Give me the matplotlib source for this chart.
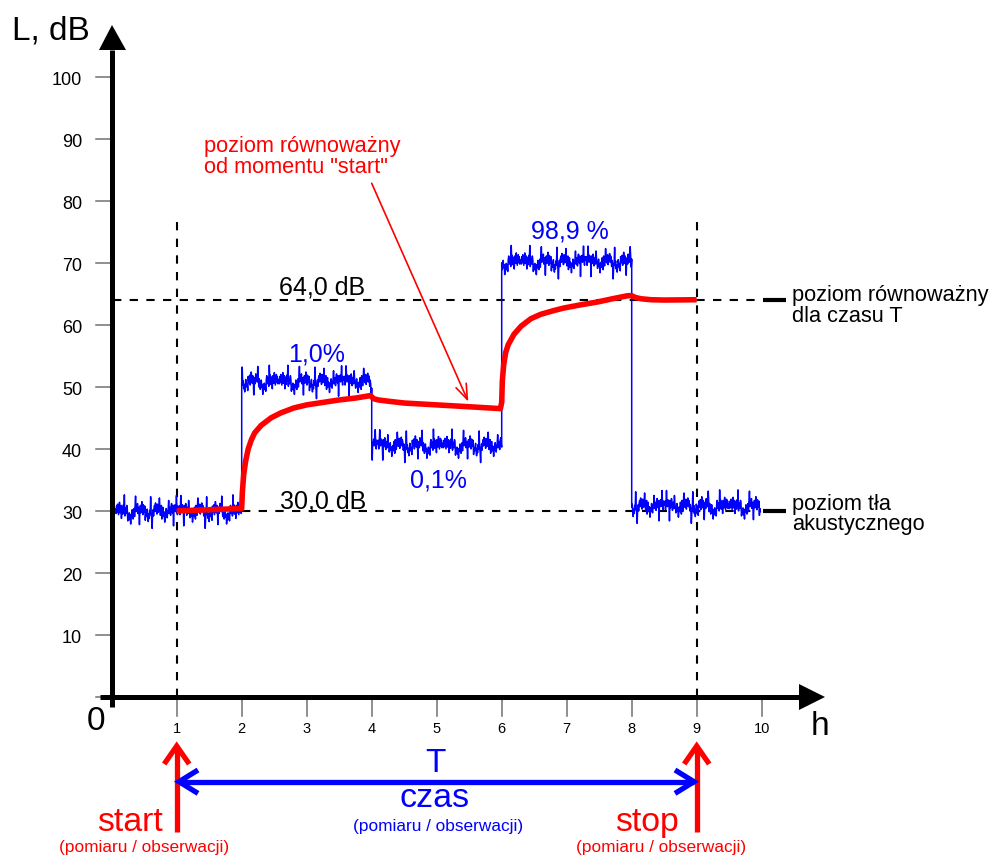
import numpy as np
import matplotlib
matplotlib.use("Agg")
import matplotlib.pyplot as plt

plt.rcParams['font.family'] = ['Liberation Sans', 'DejaVu Sans']

# ---------------- data ----------------
x_ticks = [1, 2, 3, 4, 5, 6, 7, 8, 9, 10]
y_ticks = [0, 10, 20, 30, 40, 50, 60, 70, 80, 90, 100]
y_tick_labels = ['', '10', '20', '30', '40', '50', '60', '70', '80', '90', '100']

# measured sound level: piecewise levels (hours, dB)
seg_start = [0.06, 2.0, 4.0, 6.0, 8.0]
seg_end = [2.0, 4.0, 6.0, 8.0, 9.98]
seg_level = [30.0, 50.9, 40.6, 70.2, 30.8]
seg_shift = [0, 37, 71, 19, 98]
# fluctuation pattern (dB around the level)
noise = [0.3, -0.4, 0.8, -0.2, 1.1, 0.2, -0.6, 0.5, 1.4, -0.3, 0.6, 0.9, -1.2, 0.4, 0.7,
         -0.5, 1.0, 0.1, 2.6, -0.8, 0.5, 0.2, -0.4, 0.9, 0.3, -1.6, -0.6, -1.1, -0.3, -1.4,
         -0.8, -2.1, -0.5, -1.0, 0.2, -0.7, -1.3, -0.2, 0.4, -0.9, 0.6, 2.4, -0.1, 0.8, 0.3,
         1.2, -0.4, 0.6, 0.1, -2.2, 0.5, 0.9, -0.3, 0.7, 1.5, 0.2, -0.6, 1.0, 0.4, -0.2,
         0.8, -1.5, -0.4, -0.9, -0.2, 0.3, -1.0, -1.7, -0.5, -1.2, 0.1, -0.6, 2.3, -0.3, -1.1,
         -2.8, -0.4, 0.2, -0.8, 0.5, 0.9, -0.1, 1.3, 0.4, 0.7, -0.5, 1.1, 0.3, -0.2, 0.8,
         2.1, 0.5, -0.7, 0.2, 0.9, -1.3, -0.4, 0.6, -0.9, -0.1, -0.6, -1.8, -0.3, -0.8, 0.4,
         -0.5, -1.1, -0.2, 0.3, 1.7, -0.4, 0.6, 0.1, -0.7, 0.8, 1.2, 0.3, -0.3, 0.9, -2.4,
         0.5, 0.2, 1.0, -0.1, 0.7, 2.5, 0.4, -0.6, 0.8, 0.2]

# equivalent level since "start"
leq_x = [1.0, 2.0, 2.0, 2.01, 2.03, 2.06, 2.1, 2.15, 2.2, 2.3, 2.45, 2.6, 2.8, 3.0, 3.25,
         3.5, 3.75, 3.98, 4.03, 4.1, 4.25, 4.5, 5.0, 5.5, 5.98, 6.0, 6.01, 6.03, 6.06, 6.1,
         6.19, 6.3, 6.45, 6.6, 6.8, 6.95, 7.2, 7.48, 7.7, 7.94, 8.0, 8.06, 8.15, 8.3, 8.5, 9.0]
leq_y = [30.0, 30.4, 30.6, 33.0, 35.8, 38.0, 40.0, 41.5, 42.6, 43.8, 45.0, 45.8, 46.6, 47.1, 47.5,
         47.9, 48.2, 48.6, 48.1, 47.9, 47.7, 47.4, 47.1, 46.8, 46.5, 47.5, 51.0, 53.5, 55.5, 56.8,
         58.5, 59.8, 61.0, 61.7, 62.3, 62.7, 63.2, 63.7, 64.2, 64.7, 64.7, 64.4, 64.2, 64.05, 64.0, 64.05]

ref_levels = [64.0, 30.0]
ref_labels = ['64,0 dB', '30,0 dB']
pct_labels = ['1,0%', '0,1%', '98,9 %']
t_start, t_stop = 1, 9

# ---------------- layout helpers (pixel -> data) ----------------
X0, SX = 111.7, 65.0
Y0, SY = 697.1, 6.204
def X(px):
    return (px - X0) / SX
def Y(py):
    return (Y0 - py) / SY

W, H = 991, 857
fig = plt.figure(figsize=(W / 100, H / 100), dpi=100)
ax = fig.add_axes([0, 0, 1, 1])
ax.set_xlim(X(0), X(W))
ax.set_ylim(Y(H), Y(0))
ax.axis('off')

BLUE = '#0000FF'
RED = '#FF0000'
GRAY = '#707070'
plt.rcParams['lines.scale_dashes'] = False
DASH = (6.0, 6.0)

# reference dashed lines
ax.plot([0.02, 9.98], [ref_levels[0]] * 2, color='black', lw=1.5, dashes=DASH, zorder=1)
ax.plot([2.0, 9.98], [ref_levels[1]] * 2, color='black', lw=1.5, dashes=DASH, zorder=1)
for lv in ref_levels:
    ax.plot([X(763), X(786)], [lv, lv], color='black', lw=3.0, solid_capstyle='butt', zorder=3)
# vertical dashed lines start / stop
for t in (t_start, t_stop):
    ax.plot([t, t], [Y(222), 0], color='black', lw=1.5, dashes=DASH, zorder=1)

# blue measured trace (pattern read forward then backward for each segment)
bx, by = [], []
pattern = np.array(noise + noise[::-1])
n = len(pattern)
for s, e, lv, sh in zip(seg_start, seg_end, seg_level, seg_shift):
    xs = np.linspace(s, e, n)
    ys = lv + np.roll(pattern, sh * 2)
    bx.extend(xs)
    by.extend(ys)
ax.plot(bx, by, color=BLUE, lw=1.1, zorder=2)

# red equivalent level curve
ax.plot(leq_x, leq_y, color=RED, lw=4.0, solid_joinstyle='round', solid_capstyle='butt', zorder=4)

# axes
ax.plot([0, 0], [Y(707), Y(50)], color='black', lw=3.6, solid_capstyle='butt', zorder=5)
ax.fill([X(99), X(112), X(126)], [Y(50), Y(25), Y(50)], color='black', lw=0, zorder=5)
ax.plot([X(100), X(800)], [0, 0], color='black', lw=3.6, solid_capstyle='butt', zorder=5)
ax.fill([X(799), X(825), X(799)], [Y(684), Y(697), Y(710)], color='black', lw=0, zorder=5)

for v, lab in zip(y_ticks, y_tick_labels):
    ax.plot([X(96), X(110)], [v, v], color=GRAY, lw=1.1, zorder=4)
    if lab:
        ax.text(X(82), v - 8 / SY, lab, fontsize=13, ha='right', va='baseline')
for v in x_ticks:
    ax.plot([v, v], [Y(700), Y(716)], color=GRAY, lw=1.1, zorder=4)
    ax.text(v, Y(733), str(v), fontsize=10.5, ha='center', va='baseline')

ax.text(X(12), Y(39), 'L, dB', fontsize=24, ha='left', va='baseline')
ax.text(X(95.7), Y(730), '0', fontsize=24, ha='center', va='baseline')
ax.text(X(820), Y(735), 'h', fontsize=24, ha='center', va='baseline')

# reference level labels
ax.text(X(322.5), Y(294), ref_labels[0], fontsize=18, ha='center', va='baseline', zorder=6)
ax.text(X(323), Y(508), ref_labels[1], fontsize=18, ha='center', va='baseline', zorder=6)

# percentage labels
ax.text(X(316.5), Y(361), pct_labels[0], fontsize=18, color=BLUE, ha='center', va='baseline')
ax.text(X(438.5), Y(487), pct_labels[1], fontsize=18, color=BLUE, ha='center', va='baseline')
ax.text(X(569.5), Y(238), pct_labels[2], fontsize=18, color=BLUE, ha='center', va='baseline')

# right side labels
ax.text(X(792), Y(301.5), 'poziom równoważny', fontsize=15.7, ha='left', va='baseline')
ax.text(X(792), Y(321.5), 'dla czasu T', fontsize=15.7, ha='left', va='baseline')
ax.text(X(792), Y(510), 'poziom tła', fontsize=15.7, ha='left', va='baseline')
ax.text(X(792), Y(530), 'akustycznego', fontsize=15.7, ha='left', va='baseline')

# red annotation
ax.text(X(204), Y(151.7), 'poziom równoważny', fontsize=15.7, color=RED, ha='left', va='baseline')
ax.text(X(204), Y(173), 'od momentu "start"', fontsize=15.7, color=RED, ha='left', va='baseline')
ax.annotate('', xy=(X(468.3), Y(401.7)), xytext=(X(371.7), Y(183.3)),
            arrowprops=dict(arrowstyle='->,head_length=1.1,head_width=0.4', color=RED,
                            lw=1.2, mutation_scale=10, shrinkA=0, shrinkB=0))

# bottom: start / stop arrows
for t, cx in ((t_start, 176.7), (t_stop, 696.7)):
    ax.plot([t, t], [Y(831.5), Y(747)], color=RED, lw=3.8, solid_capstyle='butt', zorder=5)
    ax.plot([X(cx - 12.5), t, X(cx + 12.5)], [Y(764), Y(746), Y(764)], color=RED, lw=3.8,
            solid_joinstyle='miter', solid_capstyle='butt', zorder=5)

# blue double arrow T
ay = Y(781.7)
ax.plot([X(179), X(694)], [ay, ay], color=BLUE, lw=3.8, solid_capstyle='butt', zorder=5)
ax.plot([X(198), X(179), X(198)], [Y(770), ay, Y(793.4)], color=BLUE, lw=3.8,
        solid_joinstyle='miter', solid_capstyle='butt', zorder=5)
ax.plot([X(675), X(694), X(675)], [Y(770), ay, Y(793.4)], color=BLUE, lw=3.8,
        solid_joinstyle='miter', solid_capstyle='butt', zorder=5)

ax.text(X(435.5), Y(772), 'T', fontsize=24, color=BLUE, ha='center', va='baseline')
ax.text(X(435), Y(807), 'czas', fontsize=24.5, color=BLUE, ha='center', va='baseline')
ax.text(X(438), Y(831), '(pomiaru / obserwacji)', fontsize=12.4, color=BLUE, ha='center', va='baseline')

ax.text(X(129.7), Y(830.7), 'start', fontsize=24.4, color=RED, ha='center', va='baseline')
ax.text(X(144), Y(852), '(pomiaru / obserwacji)', fontsize=12.4, color=RED, ha='center', va='baseline')
ax.text(X(647), Y(831), 'stop', fontsize=24.4, color=RED, ha='center', va='baseline')
ax.text(X(661.5), Y(852), '(pomiaru / obserwacji)', fontsize=12.4, color=RED, ha='center', va='baseline')

fig.savefig('out.png', dpi=100)
